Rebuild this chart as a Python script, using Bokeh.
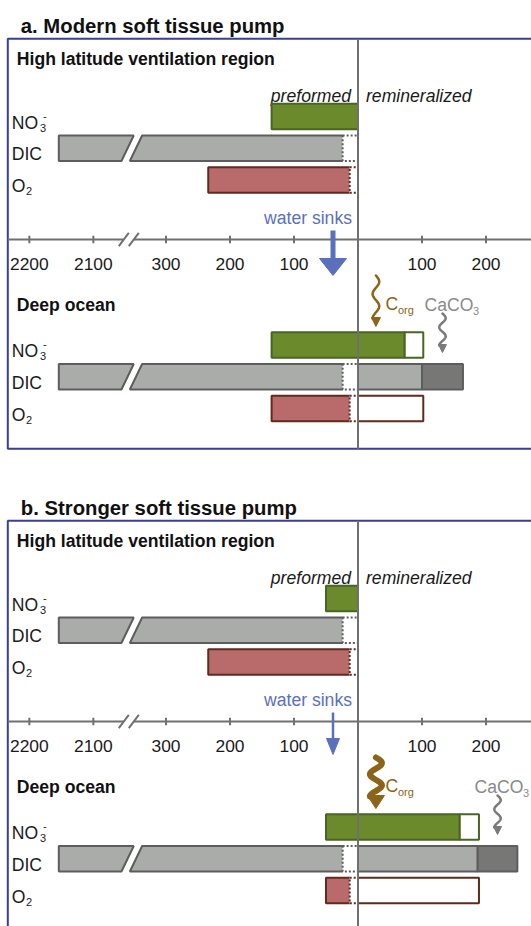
import numpy as np
from bokeh.plotting import figure
from bokeh.models import Range1d
from bokeh.embed import file_html
from bokeh.resources import INLINE
from bokeh.core.properties import value

# ---------------- data ----------------
panel_titles = ["a. Modern soft tissue pump", "b. Stronger soft tissue pump"]
no3_pre = [135, 50]        # preformed nitrate (both regions)
no3_remin = [73, 159]      # remineralized nitrate in deep ocean (green)
no3_open = [29, 30]        # open (white) part of remineralized nitrate
dic_pre = [2154, 2154]     # preformed DIC
dic_diseq = [24, 24]       # dotted part of preformed DIC
dic_soft = [100, 187]      # remineralized DIC from soft tissue
dic_carb = [64, 62]        # DIC from CaCO3 dissolution
o2_pre = [234, 234]        # preformed O2 in high latitude region
o2_diseq = [13, 13]        # dotted part of preformed O2
o2_deep = [135, 50]        # O2 remaining in deep ocean
o2_used = [102, 189]       # O2 consumed by remineralization
left_ticks = [2200, 2100, 300, 200, 100]
right_ticks = [100, 200]
region_titles = ["High latitude ventilation region", "Deep ocean"]

# ---------------- layout / styles ----------------
X0, S = 357.5, 0.64          # pixel of value 0, pixels per unit
JUMP = 2100 - 413.5          # axis break offset for the large DIC values
DY = 482                     # vertical offset of panel b
FONT = value("Liberation Sans")
FS = 17.6
BLUE_FRAME = "#3b3e97"
LINE_GRAY = "#707070"
GREEN, GREEN_D = "#6b8a2c", "#4a6424"
GRAY, GRAY_D, GRAY_DK = "#aaacaa", "#5d5d5d", "#777776"
RED, RED_D = "#b96b6b", "#5e2b1f"
SINK = "#5b70bd"
BROWN = "#8b6419"
CACO3 = "#8a8a8a"
BH = 25.5
TOP_ROWS = [116.0, 147.8, 179.6]
DEEP_ROWS = [344.4, 376.2, 408.0]
sink_w = [5, 2.5]; sink_hw = [27, 13]; sink_hl = [17, 16]
corg_w = [2.5, 6]; corg_amp = [3.3, 6]; corg_hw = [9, 17]; corg_hl = [8, 12]
caco3_dx = [-18, -23]


def px(xp):
    return (xp - X0) / S


def xl(v):
    return -(v - JUMP) if v > 1000 else -v


p = figure(width=531, height=926, x_range=Range1d(px(0), px(531)),
           y_range=Range1d(926, 0), output_backend="svg", toolbar_location=None,
           x_axis_type=None, y_axis_type=None, min_border=0)
p.outline_line_color = None
p.background_fill_color = "white"
p.border_fill_color = "white"


def txt(x, y, s, size=FS, color="#1a1a1a", style="normal", align="left"):
    p.text(x=[x], y=[y], text=[s], text_font=FONT, text_font_size=f"{size}px",
           text_color=color, text_font_style=style, text_align=align,
           text_baseline="alphabetic")


def box(l, r, yc, fill, line, dash="solid", sides="all"):
    t, b = yc - BH / 2, yc + BH / 2
    if sides == "all":
        p.quad(left=l, right=r, top=t, bottom=b, fill_color=fill,
               line_color=line, line_width=2, line_dash=dash)
    else:  # open on the right
        p.quad(left=l, right=r, top=t, bottom=b, fill_color=fill, line_color=None)
        p.line([r, l, l, r], [t, t, b, b], line_color=line, line_width=2, line_dash=dash)


def dic_left(yc, right_end):
    t, b = yc - BH / 2, yc + BH / 2
    B, g, s = px(131.3), 4.2 / S, 6.15 / S
    xL = xl(dic_pre[0])
    p.patch([xL, B - g + s, B - g - s, xL], [t, t, b, b], fill_color=GRAY,
            line_color=GRAY_D, line_width=2)
    p.patch([B + g + s, right_end, right_end, B + g - s], [t, t, b, b],
            fill_color=GRAY, line_color=None)
    p.line([right_end, B + g + s, B + g - s, right_end], [t, t, b, b],
           line_color=GRAY_D, line_width=2)


def squiggle(xc, y0, y1, amp, periods, lw, hw, hl, color):
    tt = np.linspace(0, 1, 80)
    ys = y0 + (y1 - y0) * tt
    xs = xc + amp / S * np.sin(2 * np.pi * periods * tt)
    p.line(xs, ys, line_color=color, line_width=lw, line_join="round", line_cap="round")
    p.patch([xc - hw / 2 / S, xc + hw / 2 / S, xc], [y1 - 1, y1 - 1, y1 + hl],
            fill_color=color, line_color=color, line_width=1)


for k in range(2):
    dy = k * DY
    # frame
    p.quad(left=px(7.3), right=px(600), top=38.3 + dy, bottom=448.3 + dy,
           fill_color=None, line_color=BLUE_FRAME, line_width=2)
    txt(px(20.3), 25.5 + dy, panel_titles[k], size=20.3, color="#111111", style="bold")
    txt(px(16.3), 58.3 + dy, region_titles[0], color="#111111", style="bold")
    txt(px(16.3), 304 + dy, region_titles[1], color="#111111", style="bold")
    txt(px(350.5), 95 + dy, "preformed", style="italic", align="right")
    txt(px(365.5), 95 + dy, "remineralized", style="italic")

    # row labels
    for rows in (TOP_ROWS, DEEP_ROWS):
        yb = [r + dy + 6 for r in rows]
        txt(px(11.2), yb[0], "NO")
        txt(px(39.5), yb[0] + 5, "3", size=11)
        txt(px(42.5), yb[0] - 7, "-", size=11)
        txt(px(11.2), yb[1], "DIC")
        txt(px(11.2), yb[2], "O")
        txt(px(25.5), yb[2] + 5, "2", size=11)

    # ---- high latitude bars
    r0, r1, r2 = [r + dy for r in TOP_ROWS]
    box(xl(no3_pre[k]), 0, r0, GREEN, GREEN_D)
    dic_left(r1, -dic_diseq[k])
    box(-dic_diseq[k], 0, r1, "white", GRAY_D, dash="2 2")
    box(xl(o2_pre[k]), -o2_diseq[k], r2, RED, RED_D, sides="open")
    box(-o2_diseq[k], 0, r2, "white", RED_D, dash="2 2")

    # ---- deep ocean bars
    d0, d1, d2 = [r + dy for r in DEEP_ROWS]
    box(xl(no3_pre[k]), no3_remin[k], d0, GREEN, GREEN_D)
    box(no3_remin[k], no3_remin[k] + no3_open[k], d0, "white", GREEN_D)
    dic_left(d1, -dic_diseq[k])
    box(-dic_diseq[k], 0, d1, "white", GRAY_D, dash="2 2")
    box(0, dic_soft[k], d1, GRAY, GRAY_D)
    box(dic_soft[k], dic_soft[k] + dic_carb[k], d1, GRAY_DK, GRAY_D)
    box(xl(o2_deep[k]), -o2_diseq[k], d2, RED, RED_D, sides="open")
    box(-o2_diseq[k], 0, d2, "white", RED_D, dash="2 2")
    box(0, o2_used[k], d2, "white", RED_D)

    # centre line
    p.line([0, 0], [38.3 + dy, 448.3 + dy], line_color=LINE_GRAY, line_width=2)

    # axis with break
    ay = 239 + dy
    brk = px(128.3)
    p.line([px(7.3), brk - 5 / S], [ay, ay], line_color=LINE_GRAY, line_width=2)
    p.line([brk + 5 / S, px(600)], [ay, ay], line_color=LINE_GRAY, line_width=2)
    for c in (brk - 5 / S, brk + 5 / S):
        p.line([c - 5 / S, c + 5 / S], [ay + 6.7, ay - 6.7], line_color=LINE_GRAY, line_width=2)
    tx = [xl(t) for t in left_ticks] + list(right_ticks)
    p.segment(x0=tx, y0=[ay - 3.7] * len(tx), x1=tx, y1=[ay + 3.7] * len(tx),
              line_color=LINE_GRAY, line_width=2)
    labels = [str(t) for t in left_ticks] + [str(t) for t in right_ticks]
    p.text(x=tx, y=[263.5 + dy] * len(tx), text=labels, text_font=FONT,
           text_font_size="17.4px", text_color="#1a1a1a", text_align="center",
           text_baseline="alphabetic")

    # water sinks
    txt(px(351.5), 217.5 + dy, "water sinks", color=SINK, align="right")
    sx = px(332.5)
    head_top = 275 + dy - sink_hl[k] if k == 0 else 738 + dy - DY
    tip = 275 + dy if k == 0 else 754
    p.line([sx, sx], [230 + dy, head_top + 1], line_color=SINK, line_width=sink_w[k])
    p.patch([sx - sink_hw[k] / 2 / S, sx + sink_hw[k] / 2 / S, sx],
            [head_top, head_top, tip], fill_color=SINK, line_color=SINK, line_width=1)

    # C_org flux
    cx = 28
    squiggle(cx, 275 + dy, 326 + dy - corg_hl[k], corg_amp[k], 1.75, corg_w[k],
             corg_hw[k], corg_hl[k], BROWN)
    txt(px(385), 303.5 + dy, "C", color=BROWN)
    txt(px(397.5), 309.5 + dy, "org", size=11, color=BROWN)

    # CaCO3 flux
    gx = dic_soft[k] + dic_carb[k] / 2
    squiggle(gx, 313 + dy, 345 + dy, 3.2, 1.75, 2.5, 8, 7, "#7a7a7a")
    tx0 = gx + caco3_dx[k] / S
    txt(tx0, 304 + dy, "CaCO", color=CACO3)
    txt(tx0 + 48.5 / S, 310 + dy, "3", size=11, color=CACO3)

open("out.html", "w").write(file_html(p, INLINE))
